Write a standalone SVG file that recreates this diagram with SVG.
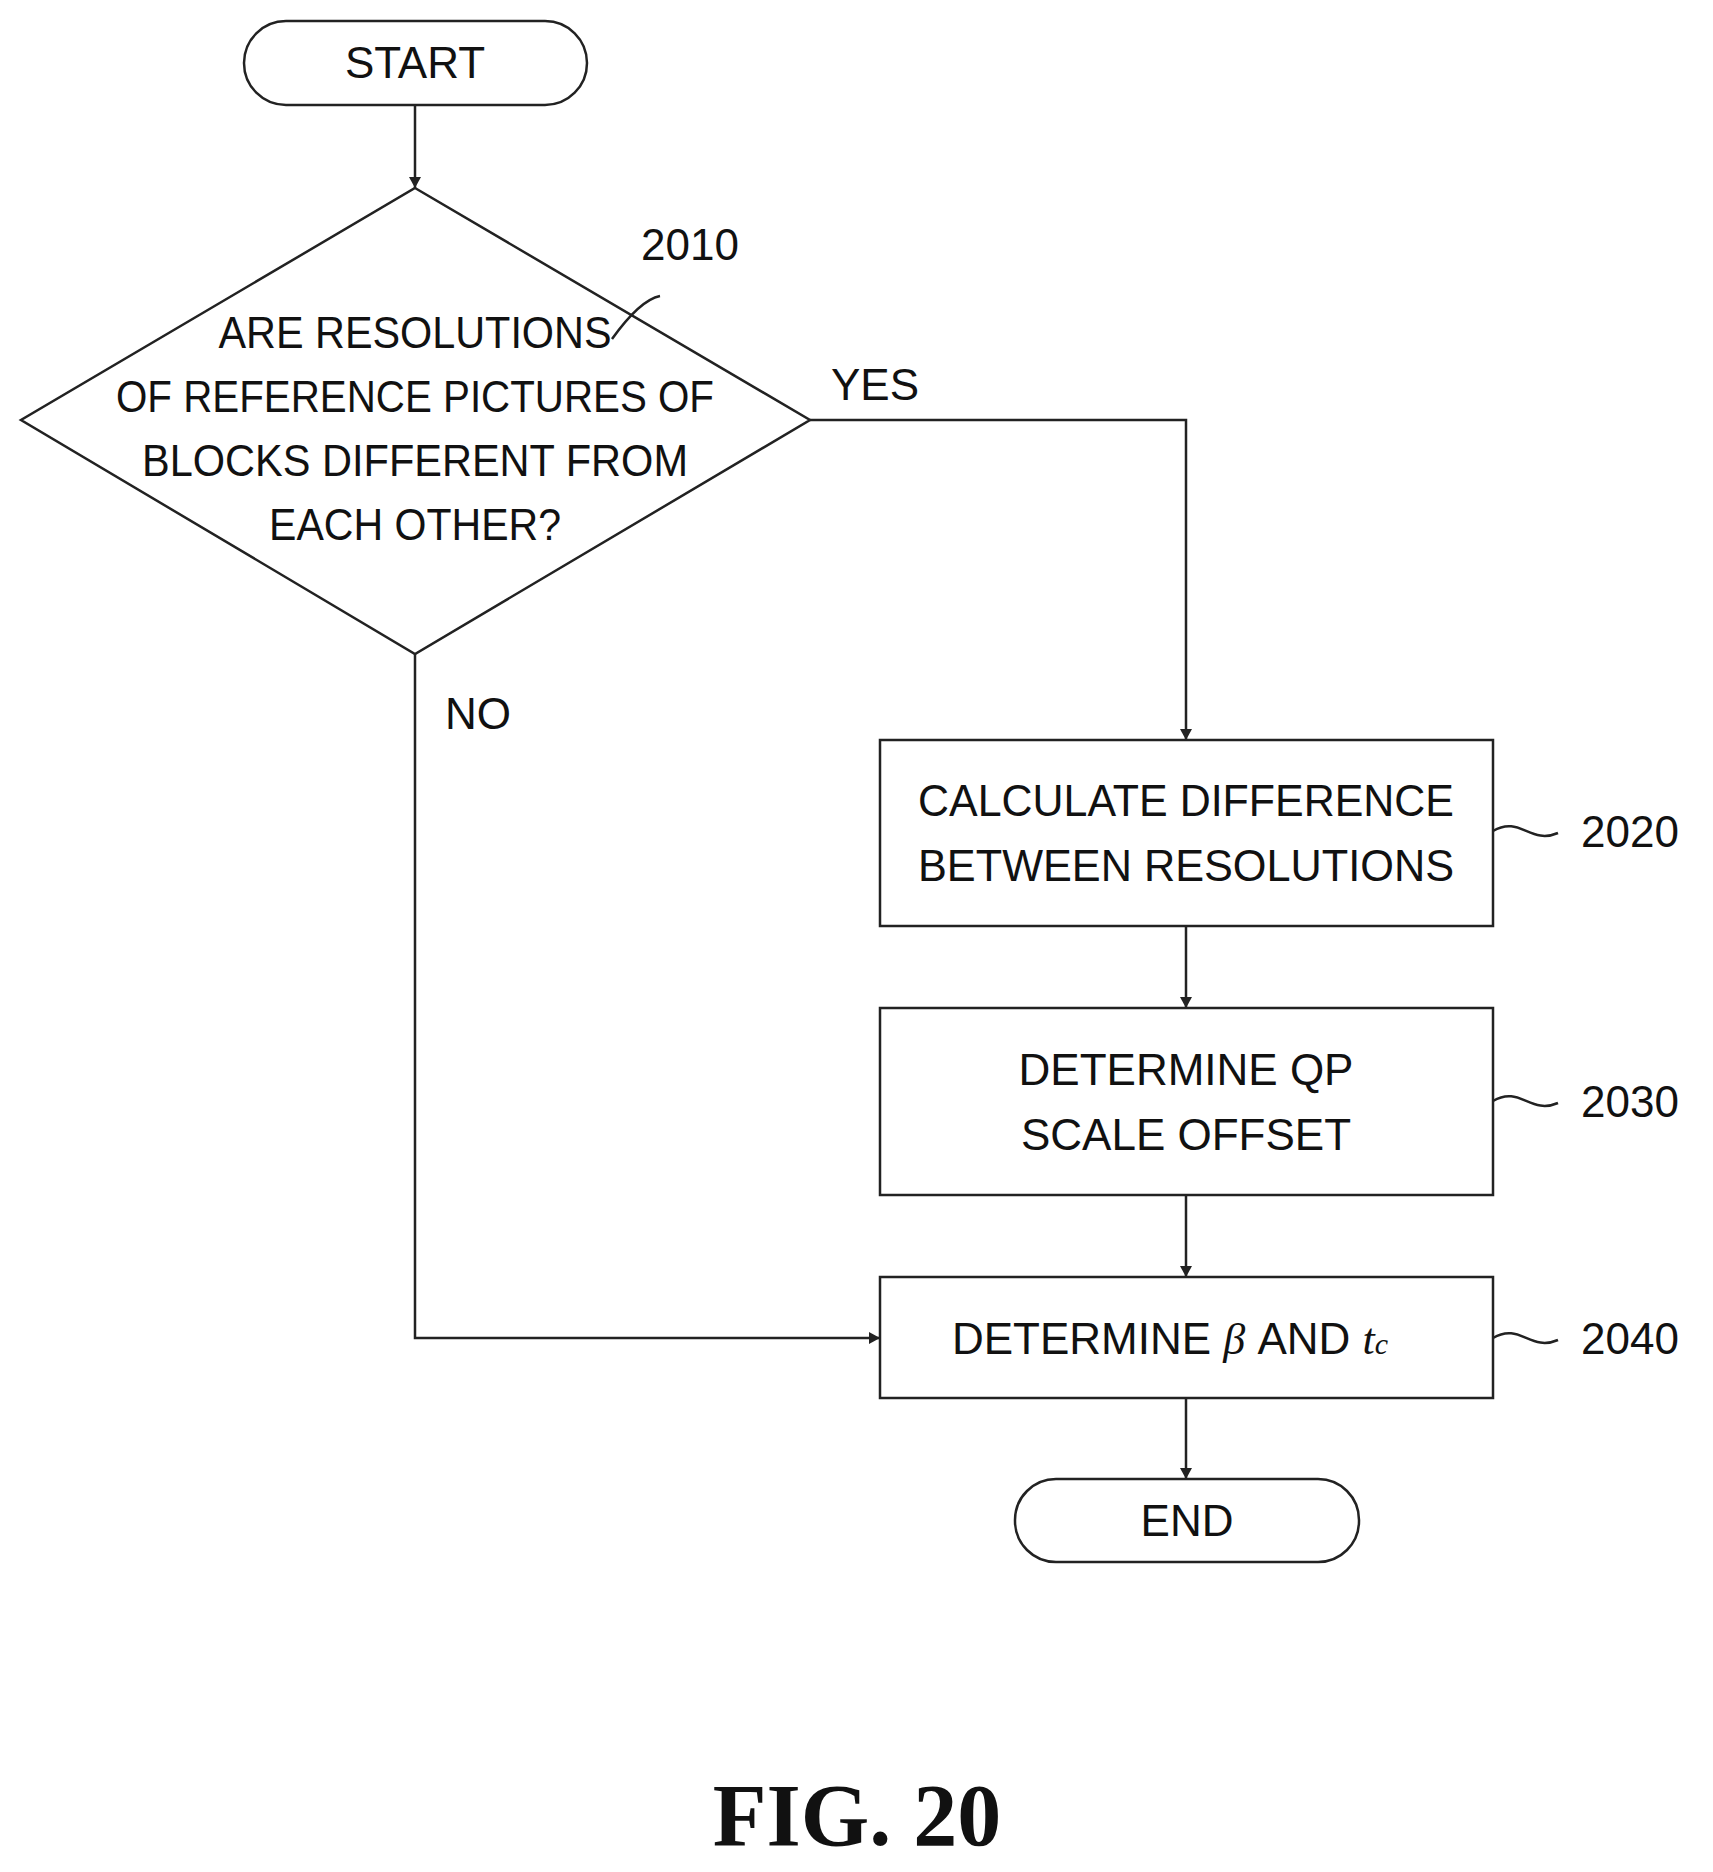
<svg xmlns="http://www.w3.org/2000/svg" width="1713" height="1872" viewBox="0 0 1713 1872">
<style>
.s{fill:none;stroke:#222;stroke-width:2.5}
.t{font-family:"Liberation Sans",Arial,sans-serif;font-size:44px;fill:#111;text-anchor:middle}
.c{fill:none;stroke:#222;stroke-width:2.5;marker-end:url(#a)}
</style>
<defs><marker id="a" markerWidth="12" markerHeight="14" refX="11" refY="7" orient="auto" markerUnits="userSpaceOnUse"><path d="M0,1 L11,7 L0,13 Z" fill="#222"/></marker></defs>
<rect width="1713" height="1872" fill="#fff"/>
<g id="start"><rect class="s" x="244" y="21" width="343" height="84" rx="42"/><text class="t" x="415" y="78">START</text></g>
<g id="n2010"><polygon class="s" points="415,188 810,420 415,654 21,420"/>
<text class="t" x="415" y="348" textLength="393" lengthAdjust="spacingAndGlyphs">ARE RESOLUTIONS</text>
<text class="t" x="415" y="412" textLength="598" lengthAdjust="spacingAndGlyphs">OF REFERENCE PICTURES OF</text>
<text class="t" x="415" y="476" textLength="546" lengthAdjust="spacingAndGlyphs">BLOCKS DIFFERENT FROM</text>
<text class="t" x="415" y="540" textLength="292" lengthAdjust="spacingAndGlyphs">EACH OTHER?</text>
<text class="t" x="690" y="260">2010</text><path class="s" d="M612,339 Q640,300 660,296"/></g>
<g id="n2020"><rect class="s" x="880" y="740" width="613" height="186"/>
<text class="t" x="1186" y="816" textLength="536" lengthAdjust="spacingAndGlyphs">CALCULATE DIFFERENCE</text>
<text class="t" x="1186" y="881" textLength="536" lengthAdjust="spacingAndGlyphs">BETWEEN RESOLUTIONS</text>
<text class="t" x="1630" y="847">2020</text><path class="s" d="M1493,831 C1520,815 1530,845 1558,833"/></g>
<g id="n2030"><rect class="s" x="880" y="1008" width="613" height="187"/>
<text class="t" x="1186" y="1085">DETERMINE QP</text>
<text class="t" x="1186" y="1150">SCALE OFFSET</text>
<text class="t" x="1630" y="1117">2030</text><path class="s" d="M1493,1101 C1520,1085 1530,1115 1558,1103"/></g>
<g id="n2040"><rect class="s" x="880" y="1277" width="613" height="121"/>
<text class="t" x="1170" y="1354">DETERMINE <tspan font-family="Liberation Serif,serif" font-style="italic">β</tspan> AND <tspan font-family="Liberation Serif,serif" font-style="italic">t</tspan><tspan font-family="Liberation Serif,serif" font-style="italic" font-size="30">c</tspan></text>
<text class="t" x="1630" y="1354">2040</text><path class="s" d="M1493,1338 C1520,1322 1530,1352 1558,1340"/></g>
<g id="end"><rect class="s" x="1015" y="1479" width="344" height="83" rx="41"/><text class="t" x="1187" y="1536">END</text></g>
<g id="connectors">
<path class="c" d="M415,105 V188"/>
<path class="c" d="M810,420 H1186 V740"/>
<path class="c" d="M1186,926 V1008"/>
<path class="c" d="M1186,1195 V1277"/>
<path class="c" d="M1186,1398 V1479"/>
<path class="c" d="M415,654 V1338 H880"/>
<text class="t" x="875" y="400">YES</text>
<text class="t" x="478" y="729">NO</text>
</g>
<text x="857" y="1845" font-family="Liberation Serif,serif" font-weight="bold" font-size="88" text-anchor="middle" fill="#111">FIG. 20</text>
</svg>
